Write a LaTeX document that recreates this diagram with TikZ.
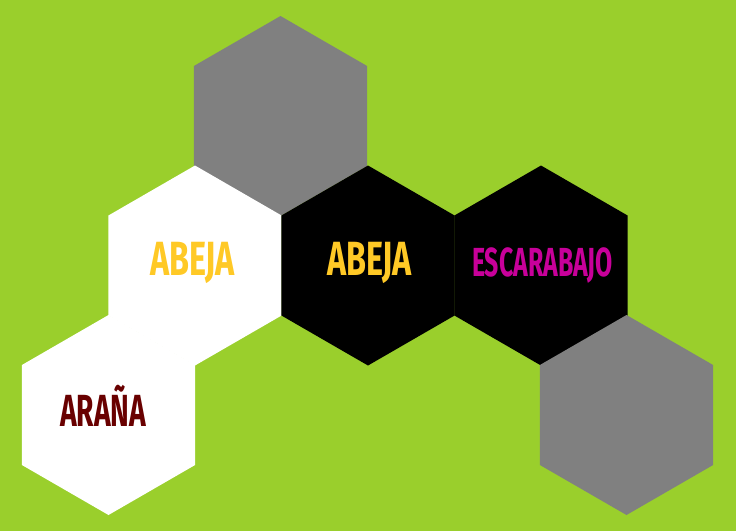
\documentclass[tikz,border=0pt]{standalone}
\usepackage{fontspec}
\usepackage{graphicx}
\setmainfont{Fira Sans}
\usetikzlibrary{shapes.geometric}
\definecolor{bg}{HTML}{9ACF2C}
\definecolor{hgray}{HTML}{808080}
\definecolor{bee}{HTML}{FFC926}
\definecolor{beetle}{HTML}{C8009A}
\definecolor{spider}{HTML}{690000}
\tikzset{
  hex/.style={regular polygon, regular polygon sides=6, shape border rotate=30,
    minimum size=200pt, inner sep=0pt, outer sep=0pt, draw=none},
  lbl/.style={anchor=base, inner sep=0pt},
}
\newcommand\fitw[3]{\resizebox{#1}{\height}{\fontsize{#2}{#2}\selectfont\bfseries #3}}
\begin{document}
\begin{tikzpicture}[x=1pt,y=-1pt]
\fill[bg] (0,0) rectangle (736,531);
\useasboundingbox (0,0) rectangle (736,531);
\node[hex, fill=hgray] (h1) at (280.5,116) {};
\node[hex, fill=white] (h2) at (195,265.5) {};
\node[hex, fill=black] (h3) at (368,265.5) {};
\node[hex, fill=black] (h4) at (541,265.5) {};
\node[hex, fill=white] (h5) at (108.5,415) {};
\node[hex, fill=hgray] (h6) at (626.5,415) {};
\node[lbl, text=bee] (t2) at (192.5,275) {\fitw{85pt}{48}{ABEJA}};
\node[lbl, text=bee] (t3) at (369.5,275) {\fitw{85pt}{48}{ABEJA}};
\node[lbl, text=beetle] (t4) at (542.5,276) {\fitw{141pt}{40.6}{ESCARABAJO}};
\node[lbl, text=spider] (t5) at (103,426) {\fitw{86pt}{45}{ARAÑA}};
\end{tikzpicture}
\end{document}
